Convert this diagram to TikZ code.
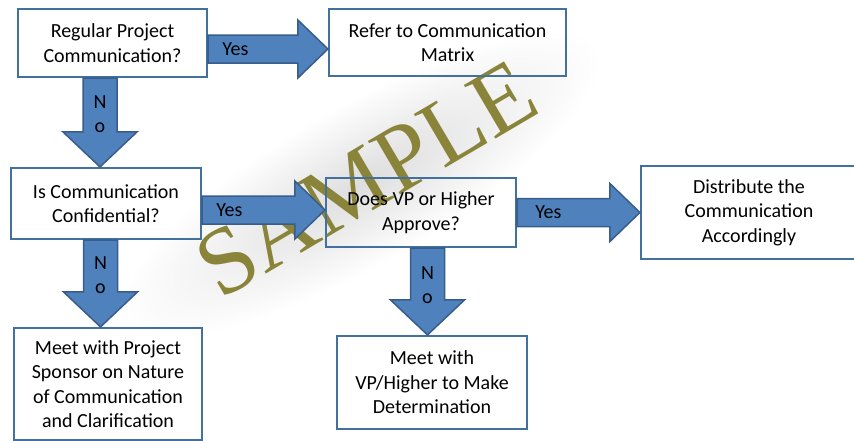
\documentclass[tikz,border=0pt]{standalone}
\usepackage{fontspec}
\setmainfont{Carlito}
\newfontfamily\markfont{Liberation Serif}
\usetikzlibrary{calc,positioning}
\definecolor{boxedge}{RGB}{65,113,156}
\definecolor{arrowfill}{RGB}{79,129,189}
\definecolor{arrowedge}{RGB}{56,93,138}
\definecolor{markolive}{RGB}{137,132,58}
\tikzset{
  flowbox/.style={draw=boxedge,line width=2.2pt,align=center,
                  inner sep=2pt,font=\fontsize{20}{24.5}\selectfont},
  lbl/.style={inner sep=0pt,align=center,font=\fontsize{20}{24.5}\selectfont},
  % block arrow going right, height taken from the start point
  yesarrow/.style={fill=arrowfill,draw=arrowedge,line width=1.5pt,
    to path={let \p1=(\tikztostart),\p2=(\tikztotarget) in
      (\x1,\y1+14) -- (\x2-30,\y1+14) -- (\x2-30,\y1+29) -- (\x2,\y1)
      -- (\x2-30,\y1-29) -- (\x2-30,\y1-14) -- (\x1,\y1-14) -- cycle}},
  % block arrow going down
  noarrow/.style={fill=arrowfill,draw=arrowedge,line width=1.5pt,
    to path={let \p1=(\tikztostart),\p2=(\tikztotarget) in
      (\x1-17,\y1) -- (\x1-17,\y2+35) -- (\x1-37,\y2+35) -- (\x1,\y2)
      -- (\x1+37,\y2+35) -- (\x1+17,\y2+35) -- (\x1+17,\y1) -- cycle}}
}
\begin{document}
\begin{tikzpicture}[x=1pt,y=1pt]
                \path[use as bounding box] (0,0) rectangle (854,-440);
                \clip (0,0) rectangle (854,-440);
                %soft shadow and watermark sit behind the chart
                \begin{scope}[transform canvas={rotate around={30:(360,-185)}}]
                \shade[inner color=black!13,outer color=white] (360,-185) ellipse (275 and 80);
                \end{scope}
                \node[text=markolive,rotate=30.5,font=\markfont\fontsize{95}{95}\selectfont] (mark) at (366,-179) {SAMPLE};
                \node[flowbox,minimum width=189,minimum height=68] (regular) at (112.5,-43) {Regular Project\\Communication?};
                \node[flowbox,minimum width=237,minimum height=67] (matrix) at (447.5,-42.5) {Refer to Communication\\Matrix};
                \node[flowbox,minimum width=190,minimum height=71] (confid) at (106,-203.5) {Is Communication\\Confidential?};
                \node[flowbox,minimum width=190,minimum height=69] (approve) at (421,-212.5) {Does VP or Higher\\Approve?};
                \node[flowbox,minimum width=188,minimum height=112] (sponsor) at (108,-384) {Meet with Project\\Sponsor on Nature\\of Communication\\and Clarification};
                \node[flowbox,minimum width=190,minimum height=93] (meetvp) at (432,-382.5) {Meet with\\VP/Higher to Make\\Determination};
                \node[flowbox,minimum width=216,minimum height=93] (distrib) at (749,-212.5) {Distribute the\\Communication\\Accordingly};
                \draw[yesarrow] ([yshift=-6]regular.east) to (matrix.west);
                \draw[yesarrow] ([yshift=-6.5]confid.east) to (approve.west);
                \draw[yesarrow] (approve.east) to (distrib.west);
                \draw[noarrow] ([xshift=-12.5]regular.south) to (confid.north);
                \draw[noarrow] ([xshift=-5.5]confid.south) to (sponsor.north);
                \draw[noarrow] ([xshift=6.5]approve.south) to (meetvp.north);
                \node[lbl,anchor=west] (yes1) at ([shift={(14,-6)}]regular.east) {Yes};
                \node[lbl,anchor=west] (yes2) at ([shift={(14,-6.5)}]confid.east) {Yes};
                \node[lbl,anchor=west] (yes3) at ([xshift=18]approve.east) {Yes};
                \node[lbl] (no1) at ([shift={(-12.5,-36)}]regular.south) {N\\o};
                \node[lbl] (no2) at ([shift={(-5.5,-35)}]confid.south) {N\\o};
                \node[lbl] (no3) at ([shift={(6.5,-37)}]approve.south) {N\\o};
\end{tikzpicture}
\end{document}
